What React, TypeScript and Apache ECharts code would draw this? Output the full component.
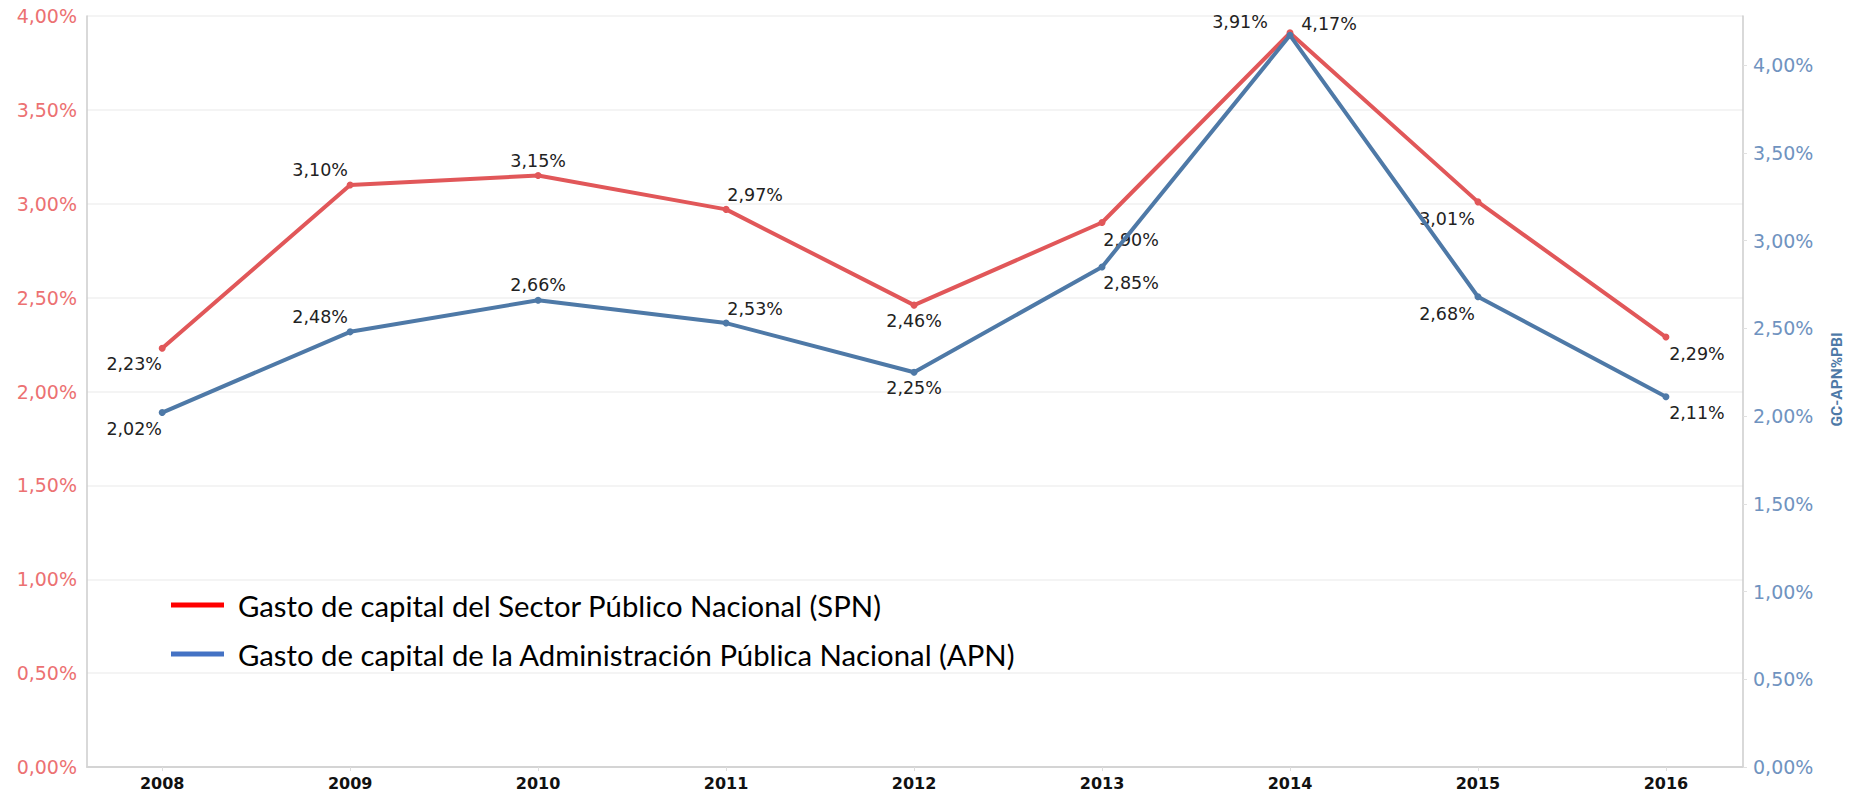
import React, { useEffect, useRef } from "react";
import * as echarts from "echarts";

const years = [2008, 2009, 2010, 2011, 2012, 2013, 2014, 2015, 2016];
const spnValues = [2.23, 3.1, 3.15, 2.97, 2.46, 2.9, 3.91, 3.01, 2.29];
const apnValues = [2.02, 2.48, 2.66, 2.53, 2.25, 2.85, 4.17, 2.68, 2.11];
const spnName = "Gasto de capital del Sector Público Nacional (SPN)";
const apnName = "Gasto de capital de la Administración Pública Nacional (APN)";
const rightAxisName = "GC-APN%PBI";

// label offsets (style only)
const spnLabelOffsets = [[-28, 16], [-30, -15], [0, -15], [29, -14], [0, 16], [29, 17], [-50, -11], [-31, 17], [31, 17]];
const apnLabelOffsets = [[-28, 16], [-30, -15], [0, -15], [29, -14], [0, 16], [29, 16], [39, -11], [-31, 17], [31, 16]];

const fmt = (v: number) => v.toFixed(2).replace(".", ",") + "%";

const RED = "#e15759";
const BLUE = "#4e79a7";
const FONT = "DejaVu Sans";

export default function App() {
  const ref = useRef<HTMLDivElement>(null);
  useEffect(() => {
    document.body.style.margin = "0";
    if (!ref.current) return;
    const chart = echarts.init(ref.current, null, { renderer: "svg" });
    const mkData = (vals: number[], offs: number[][]) =>
      years.map((y, i) => ({ value: [y, vals[i]], label: { offset: offs[i] } }));
    chart.setOption({
      animation: false,
      backgroundColor: "#ffffff",
      grid: { left: 87, right: 113, top: 16, bottom: 25, containLabel: false },
      legend: {
        orient: "vertical",
        left: 166,
        top: 584,
        itemWidth: 53,
        itemHeight: 5,
        itemGap: 17,
        icon: "rect",
        textStyle: { fontFamily: "Lato", fontSize: 29.3, color: "#000", lineHeight: 32, padding: [0, 0, 0, 9] },
        data: [
          { name: spnName, itemStyle: { color: "#ff0000" } },
          { name: apnName, itemStyle: { color: "#4472c4" } },
        ],
      },
      xAxis: {
        type: "value",
        min: 2007.6,
        max: 2016.41,
        axisLine: { show: true, lineStyle: { color: "#d4d4d4", width: 2 } },
        axisTick: { show: true, customValues: years, length: 4, lineStyle: { color: "#dddddd" } },
        splitLine: { show: false },
        axisLabel: {
          customValues: years,
          formatter: (v: number) => String(Math.round(v)),
          color: "#111",
          fontFamily: FONT,
          fontWeight: "bold",
          fontSize: 16,
          margin: 8,
        },
      },
      yAxis: [
        {
          type: "value",
          min: 0,
          max: 4,
          interval: 0.5,
          position: "left",
          axisLine: { show: true, lineStyle: { color: "#cccccc", width: 1.5 } },
          axisTick: { show: false },
          splitLine: { show: true, lineStyle: { color: "#f0f0f0", width: 1.5 } },
          axisLabel: { formatter: fmt, color: "#ec7172", fontFamily: FONT, fontSize: 19, margin: 10 },
        },
        {
          type: "value",
          min: 0,
          max: 4.28,
          interval: 0.5,
          position: "right",
          axisLine: { show: true, lineStyle: { color: "#cccccc", width: 1.5 } },
          axisTick: { show: true, length: 4, lineStyle: { color: "#e0e0e0" } },
          splitLine: { show: false },
          axisLabel: { formatter: fmt, color: "#6f93c0", fontFamily: FONT, fontSize: 19, margin: 10, showMaxLabel: false },
          name: rightAxisName,
          nameLocation: "middle",
          nameGap: 86,
          nameRotate: 90,
          nameTextStyle: {
            color: BLUE,
            fontWeight: "bold",
            fontSize: 15.5,
            fontFamily: "Liberation Sans Narrow, Roboto",
            padding: [0, 0, 0, 24],
          },
        },
      ],
      series: [
        {
          name: spnName,
          type: "line",
          yAxisIndex: 0,
          data: mkData(spnValues, spnLabelOffsets),
          symbol: "circle",
          symbolSize: 7,
          lineStyle: { color: RED, width: 4 },
          itemStyle: { color: RED },
          label: {
            show: true,
            position: "inside",
            formatter: (p: any) => fmt(p.value[1]),
            color: "#222",
            fontFamily: FONT,
            fontSize: 17.5,
          },
          z: 3,
        },
        {
          name: apnName,
          type: "line",
          yAxisIndex: 1,
          data: mkData(apnValues, apnLabelOffsets),
          symbol: "circle",
          symbolSize: 7,
          lineStyle: { color: BLUE, width: 4 },
          itemStyle: { color: BLUE },
          label: {
            show: true,
            position: "inside",
            formatter: (p: any) => fmt(p.value[1]),
            color: "#222",
            fontFamily: FONT,
            fontSize: 17.5,
          },
          z: 4,
        },
      ],
    });
    return () => chart.dispose();
  }, []);
  return <div ref={ref} style={{ width: 1856, height: 792 }} />;
}
